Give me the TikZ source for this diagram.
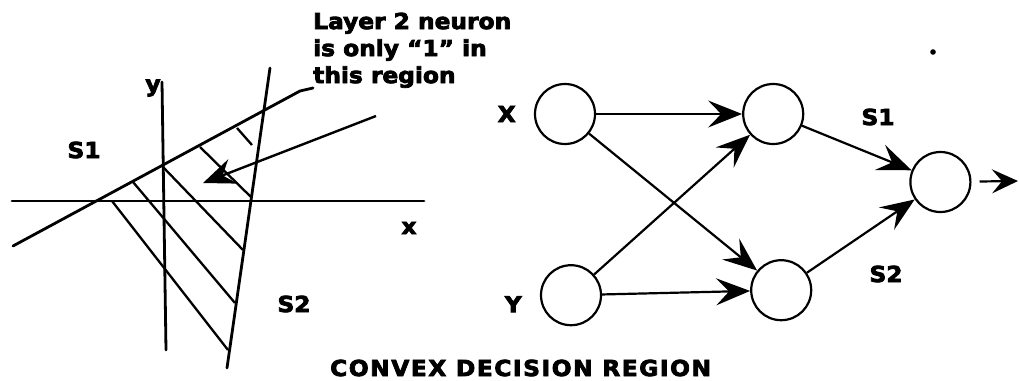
\documentclass[tikz,border=0pt]{standalone}
\usepackage{fontspec}
\newfontfamily\figfont{DejaVu Sans Bold}[FakeStretch=1.06,FakeBold=3.5]
\newfontfamily\capfont{DejaVu Sans Bold}[FakeStretch=1.06,FakeBold=3.5,LetterSpace=7]
\usetikzlibrary{arrows.meta,positioning}
\tikzset{
  neuron/.style={draw,circle,minimum size=60pt,inner sep=0pt,line width=2.2pt},
  arr/.style={-{Stealth[length=34pt,width=27pt,inset=13pt]},line width=2.2pt},
  axis/.style={line width=2.8pt,line cap=round},
  hatch/.style={line width=2.3pt},
  lbl/.style={font=\figfont\fontsize{22}{27}\selectfont,align=left,inner sep=0pt},
  caption/.style={font=\capfont\fontsize{22}{27}\selectfont,inner sep=0pt}
}

\begin{document}
\begin{tikzpicture}[x=1pt,y=-1pt]
  \useasboundingbox (0,0) rectangle (1019,380);

  % decision plane
  \node[lbl,anchor=south west] (note) at (313,88) {Layer 2 neuron\\is only “1” in\\this region};
  \coordinate (xa) at (12,201);  \coordinate (xb) at (424,201);
  \coordinate (ya) at (162,82);  \coordinate (yb) at (166,350);
  \coordinate (s1a) at (13,246); \coordinate (s1b) at (300,91);
  \coordinate (s2a) at (270,68); \coordinate (s2b) at (227,368);
  \draw[axis] (xa) -- (xb);
  \draw[axis] (ya) -- (yb);
  \draw[axis] (s1a) -- (s1b) -- (note.south west);
  \draw[axis] (s2a) -- (s2b);
  \foreach \a/\b/\c/\d in {112/201/228/350, 133/182/235/303, 163/167/243/250,
                           200/147/252/198, 237/128/252/145}
    \draw[hatch] (\a,\b) -- (\c,\d);
  \coordinate (tail) at (376,116);
  \coordinate (tip) at (203,183);
  \draw[-{Stealth[length=32pt,width=26pt,inset=11pt]},line width=2.4pt] (tail) -- (tip);
  \node[lbl] (xlab) at (409,228) {x};
  \node[lbl] (ylab) at (153,88) {y};
  \node[lbl] (s1lab) at (84,150) {S1};
  \node[lbl] (s2lab) at (294,304) {S2};

  % two layer network
  \node[neuron] (nx) at (565,114) {};
  \node[neuron,right=146pt of nx] (h1) {};
  \node[neuron,below=119pt of nx,xshift=6pt] (ny) {};
  \node[neuron,below=114pt of h1,xshift=8pt] (h2) {};
  \node[neuron,right=105pt of h1,yshift=-68pt] (o) {};
  \coordinate (out) at (1018,181);

  \node[lbl,left=18pt of nx] (xin) {X};
  \node[lbl,left=18pt of ny,yshift=-9pt] (yin) {Y};
  \node[lbl] (w1) at (878,117) {S1};
  \node[lbl] (w2) at (886,274) {S2};

  \foreach \a/\b in {nx/h1, nx/h2, ny/h1, ny/h2, h1/o, h2/o}
    \draw[arr] (\a)--(\b);
  \draw[-{Stealth[length=26pt,width=24pt,inset=10pt]},line width=2.2pt,shorten <=8pt] (o)--(out);
  \fill (933,52) circle (2.8pt);

  \node[caption,anchor=west] (title) at (330,368) {CONVEX DECISION REGION};
\end{tikzpicture}
\end{document}
